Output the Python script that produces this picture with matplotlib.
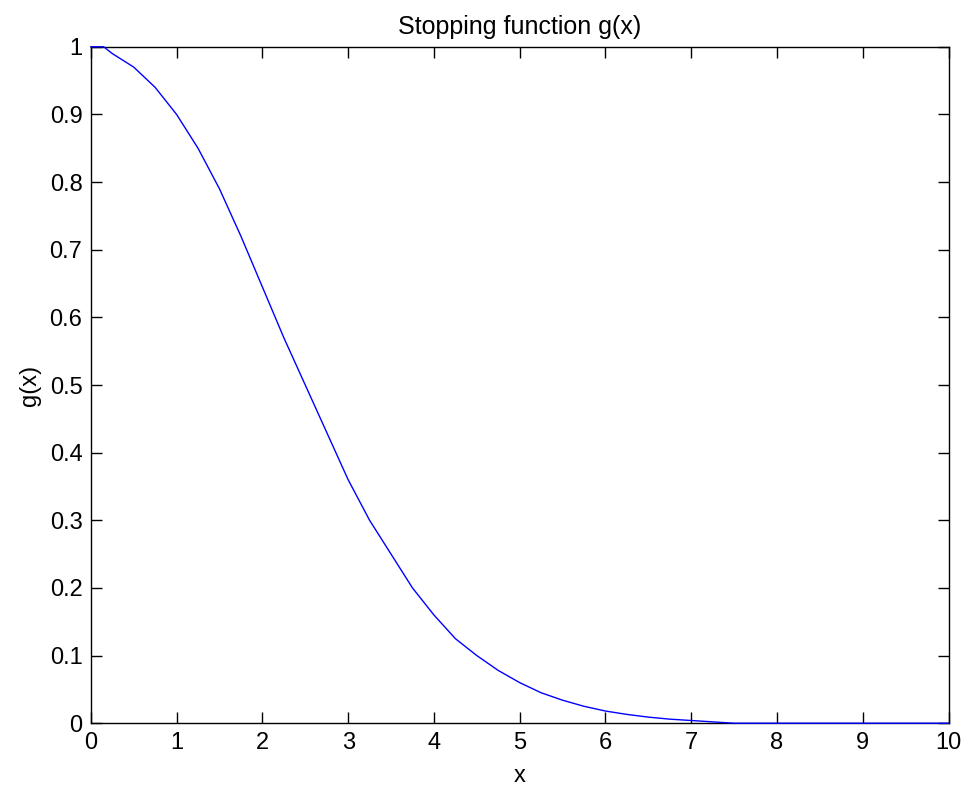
import matplotlib
matplotlib.use("Agg")
import matplotlib.pyplot as plt

# values
x_vals = [0.0, 0.15, 0.25, 0.5, 0.75, 1.0, 1.25, 1.5, 1.75, 2.0, 2.25, 2.5, 2.75,
          3.0, 3.25, 3.5, 3.75, 4.0, 4.25, 4.5, 4.75, 5.0, 5.25, 5.5, 5.75,
          6.0, 6.25, 6.5, 6.75, 7.0, 7.25, 7.5, 8.0, 9.0, 10.0]
g_vals = [1.0, 1.0, 0.99, 0.97, 0.94, 0.90, 0.85, 0.79, 0.72, 0.645, 0.57, 0.50, 0.43,
          0.36, 0.30, 0.25, 0.20, 0.16, 0.125, 0.10, 0.078, 0.060, 0.045, 0.034, 0.025,
          0.018, 0.013, 0.009, 0.006, 0.004, 0.002, 0.0, 0.0, 0.0, 0.0]

x_ticks = list(range(0, 11))
y_ticks = [0, 0.1, 0.2, 0.3, 0.4, 0.5, 0.6, 0.7, 0.8, 0.9, 1]
y_labels = ["0", "0.1", "0.2", "0.3", "0.4", "0.5", "0.6", "0.7", "0.8", "0.9", "1"]

plt.rcParams["font.family"] = ["Liberation Sans", "DejaVu Sans"]

fig = plt.figure(figsize=(9.66, 7.93), dpi=100)
ax = fig.add_axes([0.094, 0.088, 0.888, 0.853])

# line drawn over the spines, like the original
ax.plot(x_vals, g_vals, color="#0000ff", linewidth=1.0, zorder=3, clip_on=False)

ax.set_xlim(0, 10)
ax.set_ylim(0, 1)
ax.set_xticks(x_ticks)
ax.set_yticks(y_ticks)
ax.set_yticklabels(y_labels)
ax.tick_params(direction="in", top=True, right=True, length=8, width=1,
               labelsize=17, pad=6)
for s in ax.spines.values():
    s.set_linewidth(1.0)

ax.set_title("Stopping function g(x)", fontsize=18, pad=9)
ax.set_xlabel("x", fontsize=17, labelpad=8)
ax.set_ylabel("g(x)", fontsize=17, labelpad=6)

fig.savefig("out.png", dpi=100)
